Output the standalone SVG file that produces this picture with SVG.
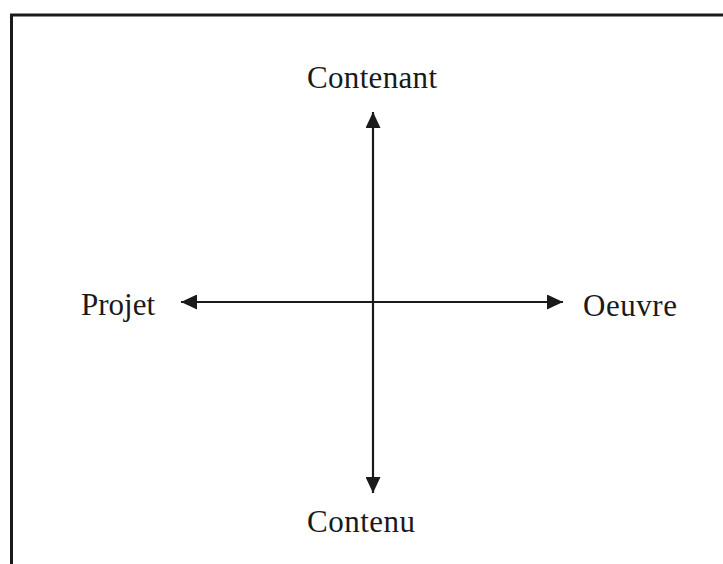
<svg xmlns="http://www.w3.org/2000/svg" width="723" height="564" viewBox="0 0 723 564">
  <style>
    .frame { fill: none; stroke: #1a1a1a; stroke-width: 3; }
    .axis { stroke: #1a1a1a; stroke-width: 2.2; fill: none; }
    .label { font-family: "Liberation Serif", "Times New Roman", serif; font-size: 31px; fill: #1a1a1a; }
  </style>
  <defs>
    <marker id="head" viewBox="0 0 16 15" refX="16" refY="7.5" markerWidth="16" markerHeight="15" markerUnits="userSpaceOnUse" orient="auto">
      <path d="M0,0 L16,7.5 L0,15 Z" fill="#1a1a1a"/>
    </marker>
  </defs>
  <rect width="723" height="564" fill="#ffffff"/>
  <!-- open frame: top and left edges -->
  <path class="frame" d="M723,15 L11.5,15 L11.5,564"/>

  <g id="connectors">
    <line class="axis" x1="373" y1="302" x2="373" y2="112" marker-end="url(#head)"/>
    <line class="axis" x1="373" y1="302" x2="373" y2="493" marker-end="url(#head)"/>
    <line class="axis" x1="373" y1="302" x2="181" y2="302" marker-end="url(#head)"/>
    <line class="axis" x1="373" y1="302" x2="563" y2="302" marker-end="url(#head)"/>
  </g>

  <g id="contenant">
    <text class="label" x="307" y="88" textLength="130" lengthAdjust="spacing">Contenant</text>
  </g>
  <g id="projet">
    <text class="label" x="81" y="315" textLength="74" lengthAdjust="spacing">Projet</text>
  </g>
  <g id="oeuvre">
    <text class="label" x="583" y="316" textLength="94" lengthAdjust="spacing">Oeuvre</text>
  </g>
  <g id="contenu">
    <text class="label" x="307" y="532" textLength="108" lengthAdjust="spacing">Contenu</text>
  </g>
</svg>
